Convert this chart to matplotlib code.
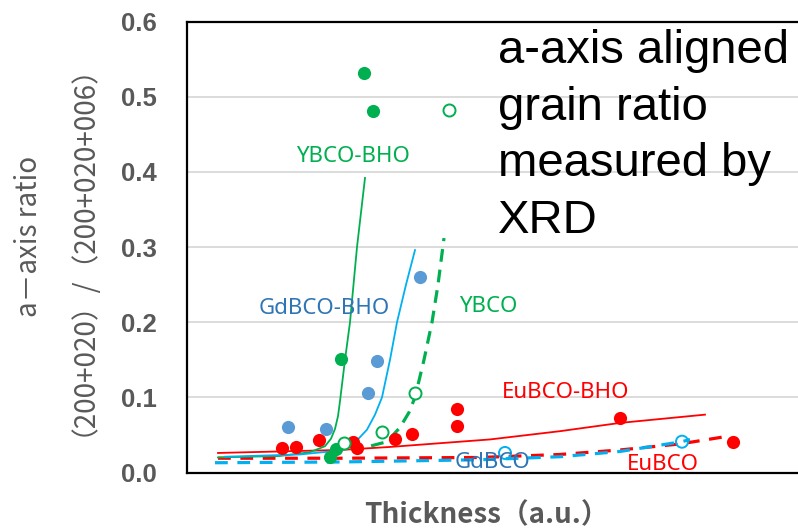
import matplotlib
matplotlib.use('Agg')
import matplotlib.pyplot as plt
import numpy as np

# measured points (x = thickness a.u., y = a-axis ratio)
ybco_bho_x = [177, 186, 154, 149, 143]
ybco_bho_y = [0.532, 0.481, 0.151, 0.031, 0.020]
gdbco_bho_x = [101, 139, 181, 190, 233]
gdbco_bho_y = [0.061, 0.058, 0.106, 0.148, 0.260]
ybco_x = [262, 228, 195, 157]
ybco_y = [0.483, 0.106, 0.054, 0.039]
gdbco_x = [318, 495]
gdbco_y = [0.026, 0.041]
eubco_x = [95, 109, 132, 166, 170, 208, 225, 270, 270, 433, 546]
eubco_y = [0.032, 0.034, 0.043, 0.041, 0.032, 0.044, 0.051, 0.085, 0.062, 0.073, 0.041]

# trend curves
fit_ybco_bho_x = [31, 93, 123, 138, 144, 148, 151, 153, 158, 163, 170, 178]
fit_ybco_bho_y = [0.020, 0.022, 0.027, 0.035, 0.045, 0.058, 0.075, 0.095, 0.150, 0.200, 0.300, 0.392]
fit_gdbco_bho_x = [38, 113, 143, 158, 168, 180, 188, 195, 203, 210, 219, 228]
fit_gdbco_bho_y = [0.021, 0.024, 0.028, 0.033, 0.040, 0.057, 0.077, 0.100, 0.150, 0.200, 0.250, 0.296]
fit_ybco_x = [143, 180, 200, 213, 222, 228, 237, 245, 251, 257]
fit_ybco_y = [0.028, 0.034, 0.041, 0.060, 0.080, 0.100, 0.150, 0.200, 0.250, 0.312]
fit_eubco_bho_x = [31, 153, 203, 253, 303, 373, 433, 518]
fit_eubco_bho_y = [0.026, 0.030, 0.034, 0.039, 0.044, 0.055, 0.066, 0.077]
fit_eubco_x = [31, 153, 293, 373, 433, 493, 535]
fit_eubco_y = [0.019, 0.019, 0.020, 0.024, 0.030, 0.038, 0.047]
fit_gdbco_x = [28, 153, 293, 373, 433, 495, 503]
fit_gdbco_y = [0.013, 0.014, 0.017, 0.021, 0.028, 0.041, 0.044]

yticks = [0.0, 0.1, 0.2, 0.3, 0.4, 0.5, 0.6]

green = '#00B050'
blue = '#5B9BD5'
cyan = '#00B0F0'
red = '#FF0000'
grey = '#595959'
cjk = ['Noto Sans CJK JP', 'DejaVu Sans']

fig = plt.figure(figsize=(7.98, 5.31), dpi=100, facecolor='w')
ax = fig.add_axes([187/798., 1-472.5/531., 1-187/798., (472.5-21.7)/531.])

# fit lines
ax.plot(fit_eubco_x, fit_eubco_y, color=red, lw=2.3, dashes=(4, 3))
ax.plot(fit_gdbco_x, fit_gdbco_y, color=cyan, lw=2.3, dashes=(4, 3))
ax.plot(fit_eubco_bho_x, fit_eubco_bho_y, color=red, lw=1.3)
ax.plot(fit_ybco_bho_x, fit_ybco_bho_y, color=green, lw=1.3)
ax.plot(fit_gdbco_bho_x, fit_gdbco_bho_y, color=cyan, lw=1.3)
ax.plot(fit_ybco_x, fit_ybco_y, color=green, lw=2.3, dashes=(4, 2.5))

# points
ax.scatter(eubco_x, eubco_y, s=90, color=red, zorder=5, lw=0)
ax.scatter(gdbco_bho_x, gdbco_bho_y, s=90, color=blue, zorder=5, lw=0)
ax.scatter(ybco_bho_x, ybco_bho_y, s=90, color=green, zorder=5, lw=0)
ax.scatter(ybco_x, ybco_y, s=75, facecolor='w', edgecolor=green, lw=1.4, zorder=6)
ax.scatter(gdbco_x, gdbco_y, s=75, facecolor='none', edgecolor=cyan, lw=1.4, zorder=6)

# labels of the series
ax.text(166, 0.420, 'YBCO-BHO', color=green, fontsize=16, family='Noto Sans', ha='center', va='center')
ax.text(137, 0.218, 'GdBCO-BHO', color='#2E75B6', fontsize=16, family='Noto Sans', ha='center', va='center')
ax.text(301, 0.221, 'YBCO', color=green, fontsize=16, family='Noto Sans', ha='center', va='center')
ax.text(379, 0.106, 'EuBCO-BHO', color=red, fontsize=16, family='Noto Sans', ha='center', va='center')
ax.text(306, 0.013, 'GdBCO', color='#2E75B6', fontsize=16, family='Noto Sans', ha='center', va='center', zorder=7)
ax.text(476, 0.010, 'EuBCO', color=red, fontsize=16, family='Noto Sans', ha='center', va='center', zorder=7)

ax.text(311, 0.590, 'a-axis aligned\ngrain ratio\nmeasured by\nXRD', color='k', fontsize=34,
        family='Liberation Sans', ha='left', va='top', linespacing=1.37)

ax.set_xlim(0, 611)
ax.set_ylim(0, 0.6)
ax.set_xticks([])
ax.set_yticks(yticks)
ax.set_yticklabels(['%.1f' % t for t in yticks], fontsize=18.5, fontweight='bold', color=grey, family='Liberation Sans')
ax.tick_params(axis='y', length=0, pad=22)
ax.yaxis.grid(True, color='#D9D9D9', lw=1.3)
ax.set_axisbelow(True)
ax.spines['right'].set_visible(False)
for s in ['left', 'top', 'bottom']:
    ax.spines[s].set_color('k')
    ax.spines[s].set_linewidth(1.6)

fig.text(29/798., 1-236/531., 'a－axis ratio', rotation=90, ha='center', va='center', fontsize=20, color=grey, family=cjk)
fig.text(69/798., 1-236/531., '（200+020）/（200+020+006）', rotation=90, ha='center', va='center', fontsize=20, color=grey, family=cjk)
fig.text(486/798., 1-515/531., 'Thickness（a.u.）', ha='center', va='center', fontsize=20, color=grey, fontweight='bold', family=cjk)

fig.savefig('out.png', dpi=100)
